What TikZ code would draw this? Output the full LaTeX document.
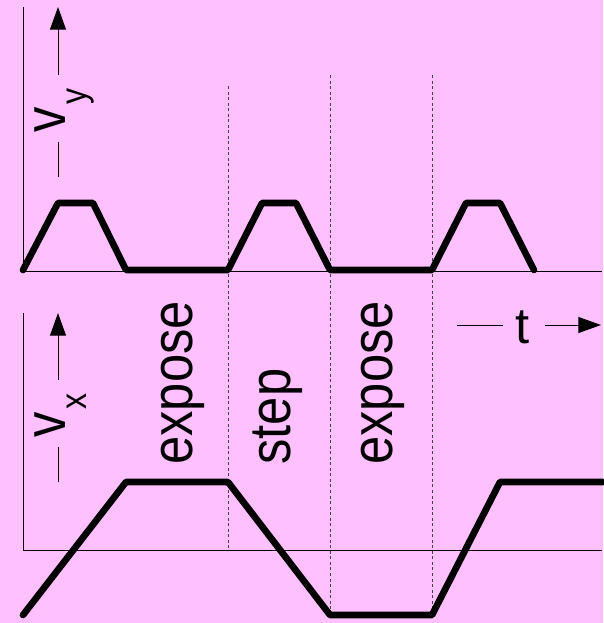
\documentclass[tikz,border=0pt]{standalone}
\usepackage{fontspec}
\setmainfont{Liberation Sans}
\usetikzlibrary{arrows.meta}
\definecolor{bgpink}{RGB}{255,192,255}
\tikzset{every picture/.style={line width=0.75pt}}
\begin{document}
\begin{tikzpicture}[x=0.75pt,y=0.75pt,yscale=-1,xscale=1,
	trace/.style={line width=5pt,line cap=round,line join=round},
	axis/.style={line width=0.75pt},
	divider/.style={line width=0.6pt,dash pattern=on 2.25pt off 1.9pt,color=black!75},
	lblarrow/.style={line width=0.75pt,-{Triangle[length=17pt,width=12pt]}},
	vlabel/.style={rotate=90,anchor=base west,inner sep=0pt,font=\fontsize{38}{38}\selectfont},
	hlabel/.style={anchor=base,inner sep=0pt,font=\fontsize{38}{38}\selectfont}]
	%background, sets the page size
	\fill [bgpink] (0,0) rectangle (603,623);
	\useasboundingbox (0,0) rectangle (603,623);
	
	%Axes
	\draw [axis] (23,7) -- (23,271) -- (602,271) ;
	\draw [axis] (23,313) -- (23,550) -- (602,550) ;
	
	%Dashed dividers
	\draw [divider] (228,86) -- (228,550) ;
	\draw [divider] (330,75) -- (330,615) ;
	\draw [divider] (432,75) -- (432,615) ;
	
	%v_y trace
	\draw [trace] (23,270) -- (58,203) -- (93,203) -- (126,270) -- (228,270) -- (262,203) -- (296,203) -- (330,270) -- (432,270) -- (466,203) -- (500,203) -- (534,270) ;
	%v_x trace
	\draw [trace] (23,615) -- (126,482) -- (228,482) -- (330,615) -- (432,615) -- (500,482) -- (603,482) ;
	
	% Text Node
	\node [vlabel] (vy) at (65,133) {\scalebox{1}[1.15]{v\kern2pt\raisebox{-14pt}{\fontsize{24}{24}\selectfont y}}};
	% Text Node
	\node [vlabel] (vx) at (65,438) {\scalebox{1}[1.15]{v\kern2pt\raisebox{-14pt}{\fontsize{24}{24}\selectfont x}}};
	% Text Node
	\node [vlabel] (expose1) at (192,465) {\scalebox{1}[1.15]{expose}};
	% Text Node
	\node [vlabel] (step) at (290,465) {\scalebox{1}[1.15]{step}};
	% Text Node
	\node [vlabel] (expose2) at (392,465) {\scalebox{1}[1.15]{expose}};
	% Text Node
	\node [hlabel] (t) at (523,343) {t};
	
	%label arrows
	\coordinate (vy0) at (58,177); \coordinate (vy1) at (58,142);
	\coordinate (vy2) at (58,75); \coordinate (vy3) at (58,7);
	\draw [axis] (vy0) -- (vy1) ;
	\draw [lblarrow] (vy2) -- (vy3) ;
	\coordinate (vx0) at (58,482); \coordinate (vx1) at (58,447);
	\coordinate (vx2) at (58,380); \coordinate (vx3) at (58,313);
	\draw [axis] (vx0) -- (vx1) ;
	\draw [lblarrow] (vx2) -- (vx3) ;
	\coordinate (t0) at (457,325); \coordinate (t1) at (503,325);
	\coordinate (t2) at (545,325); \coordinate (t3) at (601,325);
	\draw [axis] (t0) -- (t1) ;
	\draw [lblarrow] (t2) -- (t3) ;
	
\end{tikzpicture}
\end{document}
